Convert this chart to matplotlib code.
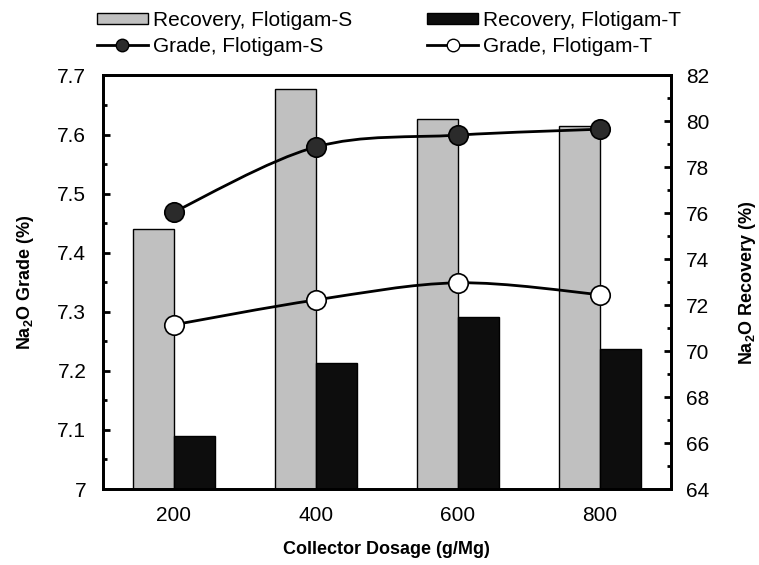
import matplotlib
matplotlib.use("Agg")
import matplotlib.pyplot as plt
import numpy as np
from matplotlib.path import Path
from matplotlib.patches import PathPatch
from matplotlib.lines import Line2D
from matplotlib.ticker import MultipleLocator

plt.rcParams['font.family'] = ['Liberation Sans', 'DejaVu Sans']

dosages = ['200', '400', '600', '800']
recovery_s = [75.3, 81.4, 80.1, 79.8]
recovery_t = [66.3, 69.5, 71.5, 70.1]
grade_s = [7.469, 7.579, 7.599, 7.609]
grade_t = [7.278, 7.320, 7.349, 7.329]


def smooth_path(xs, ys):
    # Bezier curve through the points, like a spreadsheet "smoothed line"
    p = np.column_stack([xs, ys]).astype(float)
    ext = np.vstack([p[0], p, p[-1]])
    verts = [p[0]]
    codes = [Path.MOVETO]
    for i in range(len(p) - 1):
        c1 = ext[i + 1] + (ext[i + 2] - ext[i]) / 6.0
        c2 = ext[i + 2] - (ext[i + 3] - ext[i + 1]) / 6.0
        verts += [c1, c2, ext[i + 2]]
        codes += [Path.CURVE4] * 3
    return Path(verts, codes)


fig = plt.figure(figsize=(7.59, 5.65), dpi=100)
ax = fig.add_axes([0.1357, 0.1345, 0.748, 0.732])
ax2 = ax.twinx()
ax.set_zorder(ax2.get_zorder() + 1)
ax.patch.set_visible(False)

x = np.arange(len(dosages))
w = 0.29
ax2.bar(x - w / 2, recovery_s, w, color='#c0c0c0', edgecolor='black', linewidth=1.0)
ax2.bar(x + w / 2, recovery_t, w, color='#0d0d0d', edgecolor='black', linewidth=1.0)

ax.add_patch(PathPatch(smooth_path(x, grade_s), fill=False, lw=2, edgecolor='black'))
ax.add_patch(PathPatch(smooth_path(x, grade_t), fill=False, lw=2, edgecolor='black'))
ax.plot(x, grade_s, ls='none', marker='o', ms=14, mfc='#2b2b2b', mec='black', mew=1.2)
ax.plot(x, grade_t, ls='none', marker='o', ms=14, mfc='white', mec='black', mew=1.2)

ax.set_xlim(-0.5, 3.5)
ax.set_ylim(7, 7.7)
ax2.set_ylim(64, 82)
ax.set_xticks(x)
ax.set_xticklabels(dosages)
ax.yaxis.set_major_locator(MultipleLocator(0.1))
ax.yaxis.set_minor_locator(MultipleLocator(0.05))
ax2.yaxis.set_major_locator(MultipleLocator(2))
ax2.yaxis.set_minor_locator(MultipleLocator(1))
ax.set_yticklabels(['7' if abs(v - 7) < 1e-9 else f'{v:.1f}' for v in ax.get_yticks()])

ax.tick_params(axis='x', length=0, pad=12, labelsize=15)
ax.tick_params(axis='y', which='major', direction='in', length=5, width=2, labelsize=15, pad=12)
ax.tick_params(axis='y', which='minor', direction='in', length=3, width=2)
ax2.tick_params(axis='y', which='major', direction='in', length=5, width=2, labelsize=15, pad=11)
ax2.tick_params(axis='y', which='minor', direction='in', length=3, width=2)
for a in (ax, ax2):
    for s in a.spines.values():
        s.set_linewidth(2)

lab = dict(fontsize=13, fontweight='bold')
ax.set_xlabel('Collector Dosage (g/Mg)', labelpad=12, **lab)
ax.set_ylabel('Na$_\\mathregular{2}$O Grade (%)', labelpad=15, **lab)
ax2.set_ylabel('Na$_\\mathregular{2}$O Recovery (%)', labelpad=20, **lab)

handles = [
    plt.Rectangle((0, 0), 1, 1, facecolor='#c0c0c0', edgecolor='black'),
    Line2D([], [], color='black', lw=2, marker='o', ms=9, mfc='#2b2b2b', mec='black'),
    plt.Rectangle((0, 0), 1, 1, facecolor='#0d0d0d', edgecolor='black'),
    Line2D([], [], color='black', lw=2, marker='o', ms=9, mfc='white', mec='black'),
]
labels = ['Recovery, Flotigam-S', 'Grade, Flotigam-S', 'Recovery, Flotigam-T', 'Grade, Flotigam-T']
fig.legend(handles, labels, ncol=2, loc='upper left', bbox_to_anchor=(0.1025, 1.014),
           frameon=False, fontsize=15, handlelength=2.45, handleheight=0.5,
           handletextpad=0.25, columnspacing=3.6, labelspacing=0.35)

fig.savefig('out.png', dpi=100)
